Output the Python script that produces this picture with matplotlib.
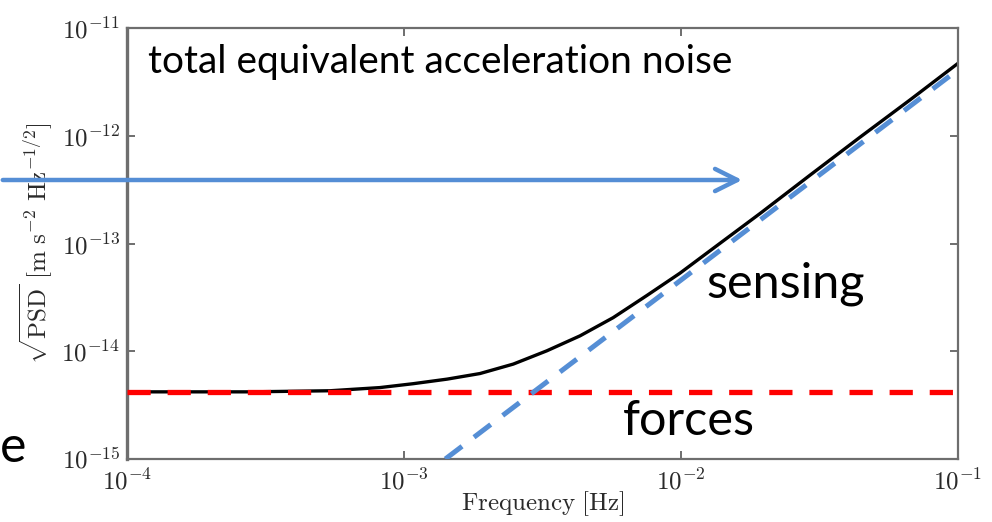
import numpy as np
import matplotlib
matplotlib.use("Agg")
import matplotlib.pyplot as plt
from matplotlib.patches import FancyArrowPatch

plt.rcParams['mathtext.fontset'] = 'cm'
plt.rcParams['font.family'] = ['DejaVu Serif']

# total equivalent acceleration noise
freq = [1e-4, 2.78e-4, 5.41e-4, 8.18e-4, 1.08e-3, 1.43e-3, 1.88e-3, 2.48e-3,
        3.28e-3, 4.32e-3, 5.69e-3, 7.54e-3, 9.91e-3, 1.38e-2, 1.93e-2,
        2.92e-2, 4.43e-2, 6.71e-2, 1e-1]
total = [4.2e-15, 4.2e-15, 4.3e-15, 4.6e-15, 5.0e-15, 5.51e-15, 6.21e-15, 7.6e-15,
         1.01e-14, 1.39e-14, 2.05e-14, 3.3e-14, 5.3e-14, 1.0e-13, 1.9e-13,
         4.3e-13, 9.7e-13, 2.15e-12, 4.7e-12]

# force noise level (flat)
forces_f = [1e-4, 1e-1]
forces = [4.2e-15, 4.2e-15]

# sensing noise asymptote
sensing_f = [1.41e-3, 1e-1]
sensing = [1e-15, 4.1e-12]

yticks = [1e-15, 1e-14, 1e-13, 1e-12, 1e-11]
xticks = [1e-4, 1e-3, 1e-2, 1e-1]

blue = '#558ed5'
W, H = 992, 522

fig = plt.figure(figsize=(W / 100, H / 100), dpi=100)
ax = fig.add_axes([127 / W, 1 - 459 / H, (958 - 127) / W, (459 - 28) / H])

ax.plot(freq, total, color='black', lw=2.4, zorder=2)
ax.plot(forces_f, forces, color='#ff0000', lw=3.8, ls=(0, (4.4, 3.2)), zorder=3)
ax.plot(sensing_f, sensing, color=blue, lw=3.6, ls=(0, (4.2, 3.0)), zorder=3)

ax.set_xscale('log')
ax.set_yscale('log')
ax.set_xlim(1e-4, 1e-1)
ax.set_ylim(1e-15, 1e-11)
ax.set_xticks(xticks)
ax.set_yticks(yticks)
ax.minorticks_off()
ax.set_xticklabels([r'$\mathbf{10^{%d}}$' % int(np.log10(v)) for v in xticks])
ax.set_yticklabels([r'$\mathbf{10^{%d}}$' % int(np.log10(v)) for v in yticks])
ax.tick_params(direction='in', length=6, width=1.2, colors='#555555',
               labelcolor='#2a2a2a', labelsize=18, top=True, right=True, pad=5)
ax.tick_params(axis='x', pad=7)
for s in ax.spines.values():
    s.set_color('#6e6e6e')
    s.set_linewidth(1.6)
ax.spines['left'].set_linewidth(2.4)

ax.set_xlabel(r'$\mathrm{Frequency\ [Hz]}$', fontsize=18, color='#2a2a2a')
ax.xaxis.set_label_coords(0.5, -0.07)
ax.set_ylabel(r'$\sqrt{\mathrm{PSD}}\ \mathrm{[m\ s^{-2}\ Hz^{-1/2}]}$', fontsize=18,
              color='#2a2a2a')
ax.yaxis.set_label_coords(-0.087, 0.5)

# overlay annotations
sans = ['Lato', 'DejaVu Sans']
fig.text(148 / W, 1 - 73 / H, 'total equivalent acceleration noise', family=sans,
         fontsize=28, va='baseline', ha='left')
fig.text(706 / W, 1 - 298 / H, 'sensing', family=sans, fontsize=35, va='baseline')
fig.text(623 / W, 1 - 435 / H, 'forces', family=sans, fontsize=35, va='baseline')
fig.text(0, 1 - 462 / H, 'e', family=sans, fontsize=36, va='baseline')

arrow = FancyArrowPatch((0, 1 - 180 / H), (745 / W, 1 - 180 / H),
                        transform=fig.transFigure, color=blue, lw=3.2,
                        arrowstyle='->,head_length=0.8,head_width=0.4',
                        mutation_scale=20, zorder=10)
fig.add_artist(arrow)

fig.savefig('out.png', dpi=100)
